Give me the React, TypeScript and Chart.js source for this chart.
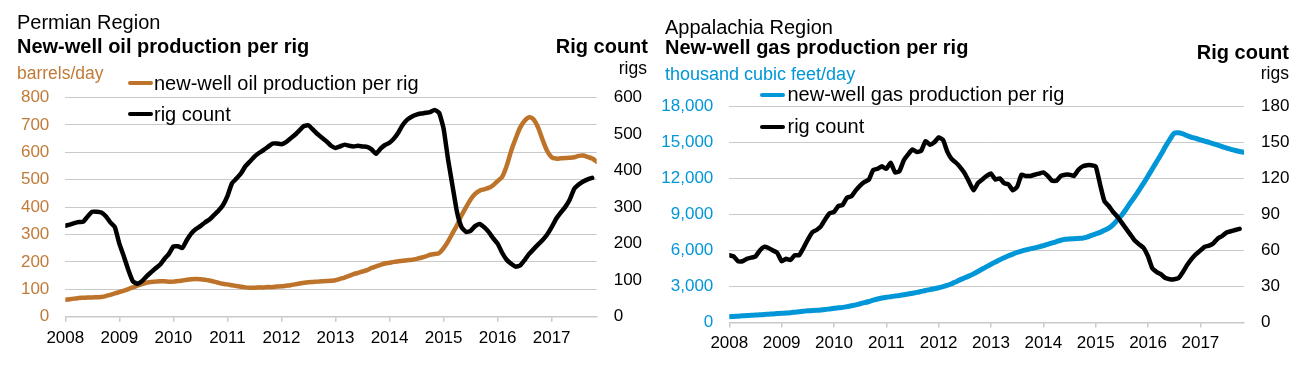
import React, { useEffect, useRef } from "react";
import { Chart, registerables } from "chart.js";

Chart.register(...registerables);

// ---------------- data ----------------
const YEARS = ["2008", "2009", "2010", "2011", "2012", "2013", "2014", "2015", "2016", "2017"];

// monthly, Jan 2008 .. Nov 2017
const PERMIAN_OIL = [
  62, 64, 66, 68, 69, 70, 70, 71, 72, 75, 80, 85,
  90, 95, 101, 107, 113, 119, 124, 127, 128, 129, 129, 128,
  128, 130, 132, 135, 137, 138, 137, 135, 132, 128, 124, 120,
  118, 115, 112, 109, 107, 106, 106, 107, 107, 108, 108, 110,
  111, 113, 115, 118, 121, 124, 126, 127, 128, 129, 130, 131,
  133, 138, 143, 149, 155, 160, 165, 170, 178, 184, 189, 194,
  197, 200, 202, 204, 206, 208, 211, 215, 220, 226, 229, 232,
  250, 275, 305, 335, 370, 400, 428, 448, 460, 465, 470, 480,
  495, 510, 550, 605, 650, 690, 715, 728, 720, 690, 645, 605,
  582, 577, 578, 579, 580, 582, 587, 588, 583, 577, 566,
];

const PERMIAN_RIGS = [
  249, 252, 256, 259, 260, 275, 287, 287, 285, 275, 258, 245,
  200, 165, 128, 97, 90, 97, 110, 121, 132, 142, 158, 172,
  192, 193, 188, 210, 228, 240, 248, 258, 266, 278, 290, 305,
  330, 365, 378, 392, 412, 425, 438, 448, 456, 465, 474, 474,
  472, 478, 488, 498, 510, 522, 524, 512, 500, 490, 480, 468,
  462, 466, 471, 468, 466, 468, 466, 465, 458, 446, 460, 470,
  476, 488, 505, 526, 540, 548, 553, 556, 558, 560, 566, 558,
  515, 430, 357, 285, 245, 232, 235, 248, 254, 245, 232, 215,
  200, 175, 156, 145, 137, 140, 155, 172, 185, 198, 210, 225,
  245, 268, 285, 300, 320, 350, 362, 370, 376, 380, null,
];

const APPALACHIA_GAS = [
  483, 505, 530, 555, 580, 600, 620, 640, 665, 690, 715, 740,
  765, 790, 820, 860, 900, 940, 975, 990, 1010, 1040, 1080, 1130,
  1180, 1220, 1260, 1320, 1390, 1470, 1560, 1650, 1750, 1860, 1960, 2040,
  2100, 2150, 2200, 2250, 2310, 2370, 2440, 2510, 2590, 2670, 2740, 2810,
  2890, 2980, 3100, 3230, 3400, 3570, 3720, 3880, 4050, 4250, 4450, 4650,
  4850, 5040, 5220, 5400, 5560, 5700, 5830, 5940, 6040, 6130, 6210, 6300,
  6400, 6500, 6620, 6740, 6850, 6930, 6960, 6980, 7000, 7020, 7100, 7250,
  7380, 7500, 7680, 7850, 8150, 8550, 8950, 9450, 10000, 10500, 11050, 11600,
  12200, 12800, 13400, 14000, 14650, 15250, 15750, 15800, 15700, 15550, 15420, 15320,
  15200, 15100, 15000, 14880, 14760, 14640, 14520, 14420, 14320, 14240, 14180,
];

const APPALACHIA_RIGS = [
  56, 55, 51, 51, 53, 54, 55, 60, 63, 62, 60, 58,
  51, 53, 52, 56, 56, 62, 69, 75, 77, 80, 86, 91,
  92, 97, 98, 104, 105, 110, 114, 117, 119, 127, 128, 130,
  128, 133, 125, 126, 135, 140, 144, 142, 143, 151, 148, 150,
  154, 152, 142, 136, 133, 129, 124, 117, 110, 116, 119, 122,
  124, 119, 120, 116, 115, 110, 113, 123, 122, 122, 123, 124,
  125, 122, 118, 118, 122, 123, 123, 122, 127, 130, 131, 131,
  130, 115, 101, 97, 92, 88, 83, 78, 73, 68, 65, 62,
  55, 45, 42, 40, 37, 36, 36, 37, 42, 48, 53, 57,
  60, 63, 64, 66, 70, 72, 75, 76, 77, 78, null,
];

// ---------------- styling ----------------
const FONT = "'Liberation Sans', Arial, Helvetica, sans-serif";
const ORANGE = "#BD732A";
const ORANGE_TEXT = "#C07B38";
const BLUE = "#0096D7";
const GRID = "#C9C9C9";
const W = 650;
const H = 376;

type Panel = {
  primary: (number | null)[];
  rigs: (number | null)[];
  color: string;
  tickColor: string;
  lineWidth: number;
  yMax: number;
  yStep: number;
  rigMax: number;
  rigStep: number;
  plotLeft: number;
  plotRight: number;
  plotTop: number;
  plotBottom: number;
  xPad: number;
  rightPad: number;
  commas: boolean;
};

function buildConfig(p: Panel): any {
  const maxX = p.primary.length - 1;
  return {
    type: "line",
    data: {
      datasets: [
        {
          label: "production",
          data: p.primary.map((v, i) => ({ x: i, y: v })),
          borderColor: p.color,
          borderWidth: p.lineWidth,
          pointRadius: 0,
          tension: 0.3,
          yAxisID: "y",
          order: 2,
          borderCapStyle: "round",
          borderJoinStyle: "round",
        },
        {
          label: "rig count",
          data: p.rigs.map((v, i) => ({ x: i, y: v })),
          borderColor: "#000000",
          borderWidth: 4.5,
          pointRadius: 0,
          tension: 0.15,
          yAxisID: "y2",
          order: 1,
          borderCapStyle: "round",
          borderJoinStyle: "round",
        },
      ],
    },
    options: {
      animation: false,
      responsive: false,
      devicePixelRatio: 1,
      layout: { padding: { top: p.plotTop, left: 0, right: 0, bottom: 0 } },
      plugins: { legend: { display: false }, tooltip: { enabled: false } },
      scales: {
        x: {
          type: "linear",
          min: 0,
          max: maxX,
          afterBuildTicks: (s: any) => {
            s.ticks = YEARS.map((_, i) => ({ value: i * 12 }));
          },
          afterFit: (s: any) => {
            s.height = H - p.plotBottom;
          },
          ticks: {
            autoSkip: false,
            maxRotation: 0,
            color: "#000000",
            padding: p.xPad,
            font: { family: FONT, size: 17 },
            callback: (v: number) => YEARS[Math.round(v / 12)],
          },
          grid: {
            display: true,
            drawOnChartArea: false,
            drawTicks: true,
            tickLength: 5,
            color: GRID,
            lineWidth: 1.5,
          },
          border: { display: true, color: GRID, width: 1.5 },
        },
        y: {
          position: "left",
          min: 0,
          max: p.yMax,
          afterFit: (s: any) => {
            s.width = p.plotLeft;
          },
          ticks: {
            stepSize: p.yStep,
            color: p.tickColor,
            padding: 16,
            font: { family: FONT, size: 17 },
            callback: (v: number) => (p.commas ? v.toLocaleString("en-US") : String(v)),
          },
          grid: { color: GRID, lineWidth: 1, drawTicks: false },
          border: { display: false },
        },
        y2: {
          position: "right",
          min: 0,
          max: p.rigMax,
          afterFit: (s: any) => {
            s.width = W - p.plotRight;
          },
          ticks: {
            stepSize: p.rigStep,
            color: "#000000",
            padding: p.rightPad,
            font: { family: FONT, size: 17 },
          },
          grid: { display: false, drawTicks: false },
          border: { display: false },
        },
      },
    },
  };
}

function ChartCanvas({ panel, left }: { panel: Panel; left: number }) {
  const ref = useRef<HTMLCanvasElement | null>(null);
  useEffect(() => {
    if (!ref.current) return;
    Chart.defaults.font.family = FONT;
    const chart = new Chart(ref.current, buildConfig(panel));
    return () => chart.destroy();
  }, []);
  return (
    <canvas
      ref={ref}
      width={W}
      height={H}
      style={{ position: "absolute", left, top: 0, width: W, height: H }}
    />
  );
}

function T({
  x,
  base,
  size,
  bold,
  color,
  right,
  children,
}: {
  x: number;
  base: number;
  size: number;
  bold?: boolean;
  color?: string;
  right?: boolean;
  children: React.ReactNode;
}) {
  const style: React.CSSProperties = {
    position: "absolute",
    top: base - 0.8465 * size,
    fontFamily: FONT,
    fontSize: size,
    lineHeight: `${size}px`,
    fontWeight: bold ? 700 : 400,
    color: color || "#000000",
    whiteSpace: "nowrap",
  };
  if (right) style.right = 1300 - x;
  else style.left = x;
  return <div style={style}>{children}</div>;
}

function Mark({ x, y, color }: { x: number; y: number; color: string }) {
  return (
    <div
      style={{
        position: "absolute",
        left: x,
        top: y - 2,
        width: 25,
        height: 4,
        borderRadius: 2,
        background: color,
      }}
    />
  );
}

const PERMIAN_PANEL: Panel = {
  primary: PERMIAN_OIL,
  rigs: PERMIAN_RIGS,
  color: ORANGE,
  tickColor: ORANGE_TEXT,
  lineWidth: 4.5,
  yMax: 800,
  yStep: 100,
  rigMax: 600,
  rigStep: 100,
  plotLeft: 65.3,
  plotRight: 596.7,
  plotTop: 97.5,
  plotBottom: 316.7,
  xPad: 6,
  rightPad: 17,
  commas: false,
};

const APPALACHIA_PANEL: Panel = {
  primary: APPALACHIA_GAS,
  rigs: APPALACHIA_RIGS,
  color: BLUE,
  tickColor: BLUE,
  lineWidth: 5,
  yMax: 18000,
  yStep: 3000,
  rigMax: 180,
  rigStep: 30,
  plotLeft: 79.3,
  plotRight: 594,
  plotTop: 106.3,
  plotBottom: 322.5,
  xPad: 5.5,
  rightPad: 17,
  commas: true,
};

export default function App() {
  return (
    <div
      style={{
        position: "absolute",
        left: 0,
        top: 0,
        width: 1300,
        height: 376,
        background: "#ffffff",
        overflow: "hidden",
      }}
    >
      <ChartCanvas panel={PERMIAN_PANEL} left={0} />
      <ChartCanvas panel={APPALACHIA_PANEL} left={650} />

      {/* Permian texts */}
      <T x={17} base={29} size={20}>Permian Region</T>
      <T x={17} base={53} size={20} bold>New-well oil production per rig</T>
      <T x={648} base={53} size={20} bold right>Rig count</T>
      <T x={647} base={75} size={17.5} right>rigs</T>
      <T x={17} base={79.5} size={17.5} color={ORANGE_TEXT}>barrels/day</T>
      <Mark x={128} y={83.3} color={ORANGE} />
      <T x={154} base={89.5} size={20}>new-well oil production per rig</T>
      <Mark x={128} y={114.3} color="#000000" />
      <T x={154} base={120.5} size={20}>rig count</T>

      {/* Appalachia texts */}
      <T x={665} base={34} size={20}>Appalachia Region</T>
      <T x={665} base={54} size={20} bold>New-well gas production per rig</T>
      <T x={1289} base={59} size={20} bold right>Rig count</T>
      <T x={1289} base={80} size={17.5} right>rigs</T>
      <T x={665} base={80} size={18} color={BLUE}>thousand cubic feet/day</T>
      <Mark x={760} y={95} color={BLUE} />
      <T x={787.5} base={101} size={20}>new-well gas production per rig</T>
      <Mark x={760} y={126.7} color="#000000" />
      <T x={787.5} base={132.5} size={20}>rig count</T>
    </div>
  );
}
